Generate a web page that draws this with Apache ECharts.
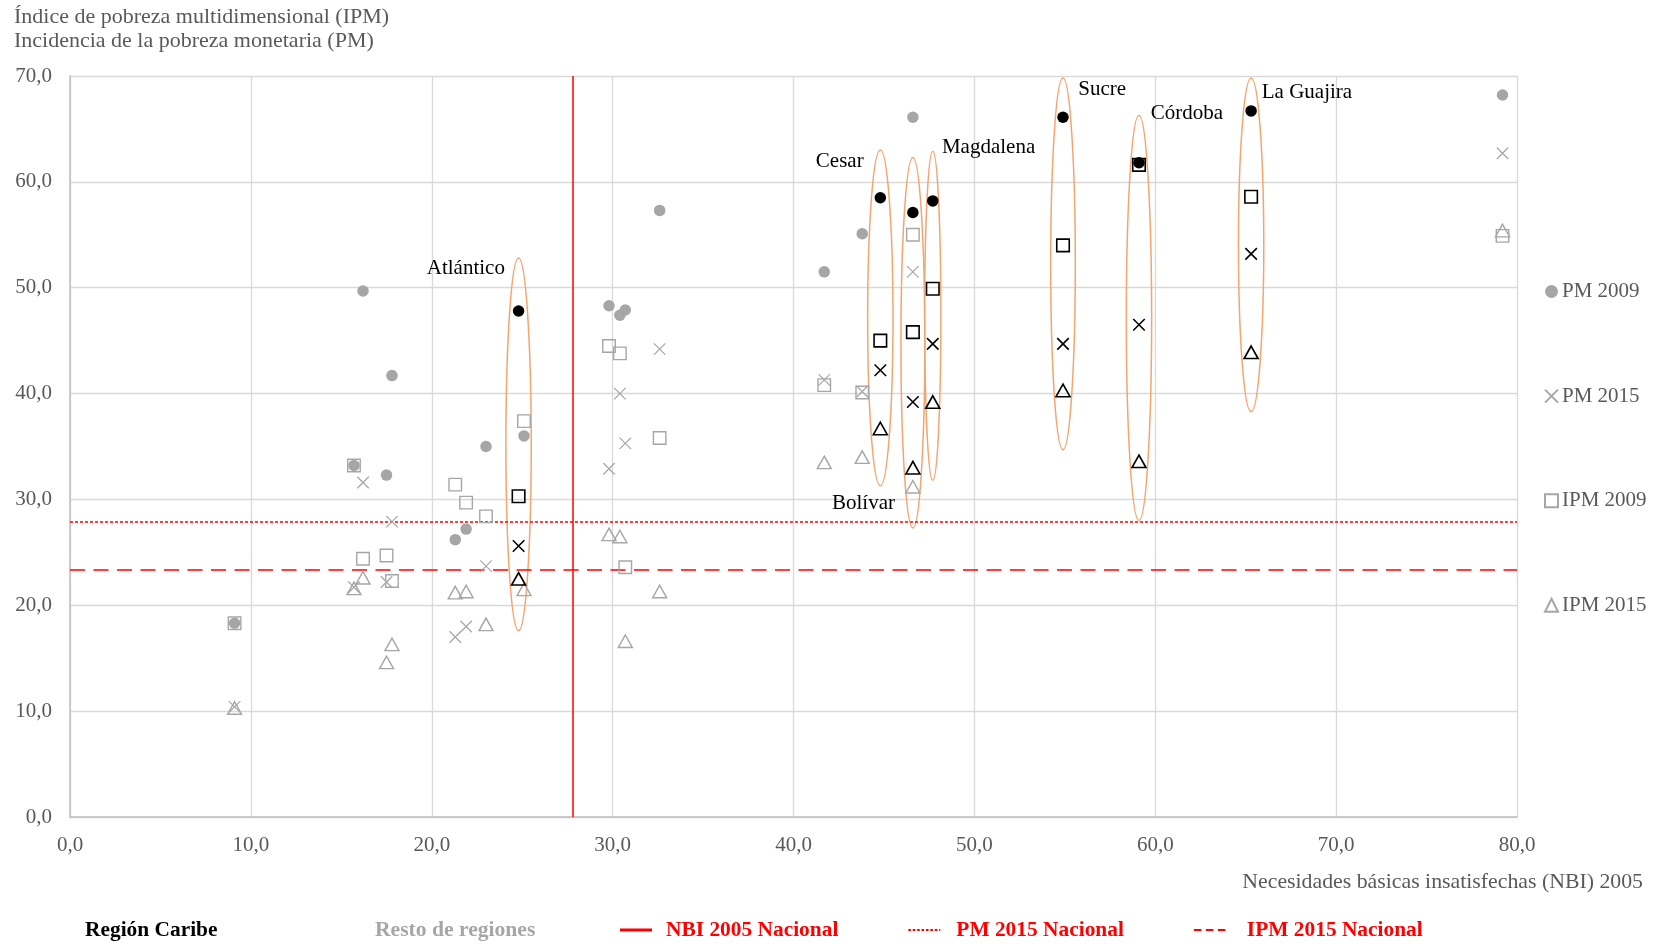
<!DOCTYPE html>
<html><head><meta charset="utf-8">
<script src="https://cdn.jsdelivr.net/npm/echarts@6/dist/echarts.min.js"></script>
<style>html,body{margin:0;padding:0;background:#fff}#c{width:1657px;height:944px}</style>
</head><body><div id="c"></div>
<script>
// ---------- DATA ----------
const caribeNames   = ['Atlántico', 'Cesar', 'Bolívar', 'Magdalena', 'Sucre', 'Córdoba', 'La Guajira'];
const caribeNBI     = [24.8, 44.8, 46.6, 47.7, 54.9, 59.1, 65.3];
const caribePM2009  = [47.8, 58.5, 57.1, 58.2, 66.1, 61.8, 66.7];
const caribePM2015  = [25.6, 42.2, 39.2, 44.7, 44.7, 46.5, 53.2];
const caribeIPM2009 = [30.3, 45.0, 45.8, 49.9, 54.0, 61.6, 58.6];
const caribeIPM2015 = [22.5, 36.7, 33.0, 39.2, 40.3, 33.6, 43.9];

const restoNBI     = [9.1, 15.7, 16.2, 17.5, 17.8, 21.3, 21.9, 23.0, 25.1, 29.8, 30.4, 30.7, 32.6, 41.7, 43.8, 46.6, 79.2];
const restoPM2009  = [18.3, 33.2, 49.7, 32.3, 41.7, 26.2, 27.2, 35.0, 36.0, 48.3, 47.4, 47.9, 57.3, 51.5, 55.1, 66.1, 68.2];
const restoPM2015  = [10.4, 21.7, 31.6, 22.2, 27.9, 17.0, 18.0, 23.7, null, 32.9, 40.0, 35.3, 44.2, 41.3, 40.2, 51.5, 62.7];
const restoIPM2009 = [18.3, 33.2, 24.4, 24.7, 22.3, 31.4, 29.7, 28.4, 37.4, 44.5, 43.8, 23.6, 35.8, 40.8, 40.1, 55.0, 54.9];
const restoIPM2015 = [10.3, 21.6, 22.6, 14.6, 16.3, 21.2, 21.3, 18.2, 21.5, 26.7, 26.5, 16.6, 21.3, 33.5, 34.0, 31.2, 55.4];

// ellipse vertical extent (top / bottom) around each Caribbean department
const ellipseTop    = [52.8, 63.0, 62.3, 62.9, 69.8, 66.3, 69.8];
const ellipseBottom = [17.6, 31.3, 27.3, 31.8, 34.7, 28.0, 38.3];

// national reference values
const nbiNacional = 27.8;
const pmNacional  = 27.9;
const ipmNacional = 23.4;

const xTicks = [0, 80, 10];
const yTicks = [0, 70, 10];

// ---------- STYLE ----------
const FONT = '"Liberation Serif", "Times New Roman", serif';
const GREY = '#A6A6A6';
const TXT = '#595959';
const ORANGE = '#F4A56F';
const ellipseHalfW = [0.7, 0.7, 0.66, 0.45, 0.68, 0.7, 0.7];
const labelCfg = [
  {side: 'left',  anchor: 'top',    dx: -1, dy: 10},
  {side: 'left',  anchor: 'top',    dx: -4, dy: 11},
  {side: 'left',  anchor: 'bottom', dx: -6, dy: -25},
  {side: 'right', anchor: 'top',    dx: 1,  dy: -4},
  {side: 'right', anchor: 'top',    dx: 3,  dy: 11},
  {side: 'right', anchor: 'top',    dx: -1, dy: -2},
  {side: 'right', anchor: 'top',    dx: -2, dy: 14}
];

function pairs(xs, ys) {
  return xs.map((x, i) => ys[i] == null ? null : [x, ys[i]]).filter(Boolean);
}
const fmt = v => v.toFixed(1).replace('.', ',');

// legend icon paths (width 32, height 3)
function dashPath(w, on, off, y0, y1) {
  let p = 'path://M0,0L0.01,0L0.01,3L0,3Z';
  for (let x = 0; x < w; x += on + off) {
    const e = Math.min(x + on, w);
    p += 'M' + x + ',' + y0 + 'L' + e + ',' + y0 + 'L' + e + ',' + y1 + 'L' + x + ',' + y1 + 'Z';
  }
  return p + 'M' + (w - 0.01) + ',0L' + w + ',0L' + w + ',3L' + (w - 0.01) + ',3Z';
}
const ICON_SOLID  = 'path://M0,0L32,0L32,3L0,3Z';
const ICON_DOTTED = dashPath(32, 2.6, 1.8, 0.6, 2.4);
const ICON_DASHED = dashPath(32, 7.5, 4.5, 0.5, 2.5);

const CROSS = 'path://M0,0L10,10M10,0L0,10';
function scatter(name, xs, ys, kind, color, lw) {
  const s = {
    type: 'scatter', name: name, data: pairs(xs, ys), silent: true, z: 5,
    emphasis: {disabled: true}
  };
  if (kind === 'circle') {
    s.symbol = 'circle'; s.symbolSize = 11.5;
    s.itemStyle = {color: color, opacity: 1};
  } else if (kind === 'cross') {
    s.symbol = CROSS; s.symbolSize = 11.5;
    s.itemStyle = {color: 'rgba(0,0,0,0)', borderColor: color, borderWidth: lw, opacity: 1};
  } else if (kind === 'rect') {
    s.symbol = 'rect'; s.symbolSize = 12.5;
    s.itemStyle = {color: 'rgba(0,0,0,0)', borderColor: color, borderWidth: lw, opacity: 1};
  } else {
    s.symbol = 'triangle'; s.symbolSize = [14, 12.5];
    s.itemStyle = {color: 'rgba(0,0,0,0)', borderColor: color, borderWidth: lw, opacity: 1};
  }
  return s;
}

const ellipseData = caribeNBI.map((x, i) => [x, ellipseTop[i], ellipseBottom[i]]);

const chart = echarts.init(document.getElementById('c'), null, {renderer: 'canvas'});
chart.setOption({
  animation: false,
  backgroundColor: '#fff',
  grid: {left: 70, right: 140, top: 76, bottom: 127, containLabel: false},
  xAxis: {
    type: 'value', min: xTicks[0], max: xTicks[1], interval: xTicks[2],
    axisLine: {show: true, lineStyle: {color: '#BFBFBF', width: 1.5}},
    axisTick: {show: false},
    splitLine: {show: true, lineStyle: {color: '#D9D9D9', width: 1.3}},
    axisLabel: {formatter: fmt, color: TXT, fontFamily: FONT, fontSize: 21, margin: 18}
  },
  yAxis: {
    type: 'value', min: yTicks[0], max: yTicks[1], interval: yTicks[2],
    axisLine: {show: true, lineStyle: {color: '#BFBFBF', width: 1.5}},
    axisTick: {show: false},
    splitLine: {show: true, lineStyle: {color: '#D9D9D9', width: 1.3}},
    axisLabel: {formatter: fmt, color: TXT, fontFamily: FONT, fontSize: 21, margin: 18}
  },
  legend: [
    {
      data: ['PM 2009', 'PM 2015', 'IPM 2009', 'IPM 2015'],
      orient: 'vertical', left: 1544, top: 281, padding: 0,
      itemGap: 83.6, itemWidth: 13, itemHeight: 13, selectedMode: false,
      textStyle: {color: TXT, fontFamily: FONT, fontSize: 21, lineHeight: 21, padding: [0, 0, 0, -1]}
    },
    {
      data: [
        {name: 'NBI 2005 Nacional', icon: ICON_SOLID, textStyle: {padding: [0, 0, 0, 9]}},
        {name: 'PM 2015 Nacional', icon: ICON_DOTTED, textStyle: {padding: [0, 0, 0, 11]}},
        {name: 'IPM 2015 Nacional', icon: ICON_DASHED, textStyle: {padding: [0, 0, 0, 16]}}
      ],
      orient: 'horizontal', left: 620, top: 919.5, padding: 0,
      itemGap: 70, itemWidth: 32, itemHeight: 3, selectedMode: false,
      itemStyle: {color: '#FF0000', borderWidth: 0},
      textStyle: {color: '#FF0000', fontFamily: FONT, fontSize: 21.4, fontWeight: 'bold', lineHeight: 21}
    }
  ],
  graphic: [
    {type: 'text', x: 14, y: 17, style: {text: 'Índice de pobreza multidimensional (IPM)', fill: TXT, font: '22px ' + FONT, verticalAlign: 'middle', textVerticalAlign: 'middle'}},
    {type: 'text', x: 14, y: 41, style: {text: 'Incidencia de la pobreza monetaria (PM)', fill: TXT, font: '22px ' + FONT, verticalAlign: 'middle', textVerticalAlign: 'middle'}},
    {type: 'text', x: 1643, y: 882, style: {text: 'Necesidades básicas insatisfechas (NBI) 2005', fill: TXT, font: '21.8px ' + FONT, align: 'right', textAlign: 'right', verticalAlign: 'middle', textVerticalAlign: 'middle'}},
    {type: 'text', x: 85, y: 930, style: {text: 'Región Caribe', fill: '#000', font: 'bold 21.4px ' + FONT, verticalAlign: 'middle', textVerticalAlign: 'middle'}},
    {type: 'text', x: 375, y: 930, style: {text: 'Resto de regiones', fill: GREY, font: 'bold 21.6px ' + FONT, verticalAlign: 'middle', textVerticalAlign: 'middle'}}
  ],
  series: [
    {
      type: 'custom', name: 'elipses', data: ellipseData, silent: true, z: 3,
      encode: {x: 0, y: 1},
      renderItem: function (params, api) {
        const i = params.dataIndex;
        const cx = api.value(0), top = api.value(1), bot = api.value(2);
        const pTop = api.coord([cx, top]);
        const pBot = api.coord([cx, bot]);
        const hw = api.size([ellipseHalfW[i], 0])[0];
        const ry = (pBot[1] - pTop[1]) / 2;
        const cy = (pTop[1] + pBot[1]) / 2;
        const L = labelCfg[i];
        const tx = L.side === 'left' ? pTop[0] - hw + L.dx : pTop[0] + hw + L.dx;
        const ty = (L.anchor === 'top' ? pTop[1] : pBot[1]) + L.dy;
        const al = L.side === 'left' ? 'right' : 'left';
        return {
          type: 'group',
          children: [
            {type: 'ellipse', shape: {cx: pTop[0], cy: cy, rx: hw, ry: ry},
             style: {fill: 'none', stroke: ORANGE, lineWidth: 1.5}},
            {type: 'text', x: tx, y: ty,
             style: {text: caribeNames[i], fill: '#000', font: '21px ' + FONT,
                     align: al, textAlign: al, verticalAlign: 'middle', textVerticalAlign: 'middle'}}
          ]
        };
      }
    },
    {
      type: 'line', name: 'NBI 2005 Nacional', data: [], symbol: 'none', silent: true,
      lineStyle: {color: '#FF0000', width: 3, type: 'solid'}, itemStyle: {color: '#FF0000'},
      markLine: {silent: true, symbol: ['none', 'none'], label: {show: false},
        lineStyle: {color: '#FF0000', width: 1.5, type: 'solid'},
        data: [[{coord: [nbiNacional, yTicks[0]]}, {coord: [nbiNacional, yTicks[1]]}]]}
    },
    {
      type: 'line', name: 'PM 2015 Nacional', data: [], symbol: 'none', silent: true,
      lineStyle: {color: '#FF0000', width: 1.5, type: [3, 2]}, itemStyle: {color: '#FF0000'},
      markLine: {silent: true, symbol: ['none', 'none'], label: {show: false},
        lineStyle: {color: '#FF0000', width: 1.5, type: [3, 2]},
        data: [[{coord: [xTicks[0], pmNacional]}, {coord: [xTicks[1], pmNacional]}]]}
    },
    {
      type: 'line', name: 'IPM 2015 Nacional', data: [], symbol: 'none', silent: true,
      lineStyle: {color: '#FF0000', width: 1.5, type: [15, 8.5]}, itemStyle: {color: '#FF0000'},
      markLine: {silent: true, symbol: ['none', 'none'], label: {show: false},
        lineStyle: {color: '#FF0000', width: 1.5, type: [15, 8.5]},
        data: [[{coord: [xTicks[0], ipmNacional]}, {coord: [xTicks[1], ipmNacional]}]]}
    },
    scatter('PM 2009', restoNBI, restoPM2009, 'circle', GREY, 1.2),
    scatter('PM 2015', restoNBI, restoPM2015, 'cross', GREY, 1.2),
    scatter('IPM 2009', restoNBI, restoIPM2009, 'rect', GREY, 1.4),
    scatter('IPM 2015', restoNBI, restoIPM2015, 'triangle', GREY, 1.4),
    scatter('Caribe PM 2009', caribeNBI, caribePM2009, 'circle', '#000', 1.6),
    scatter('Caribe PM 2015', caribeNBI, caribePM2015, 'cross', '#000', 1.6),
    scatter('Caribe IPM 2009', caribeNBI, caribeIPM2009, 'rect', '#000', 1.6),
    scatter('Caribe IPM 2015', caribeNBI, caribeIPM2015, 'triangle', '#000', 1.6)
  ]
});
</script>
</body></html>
